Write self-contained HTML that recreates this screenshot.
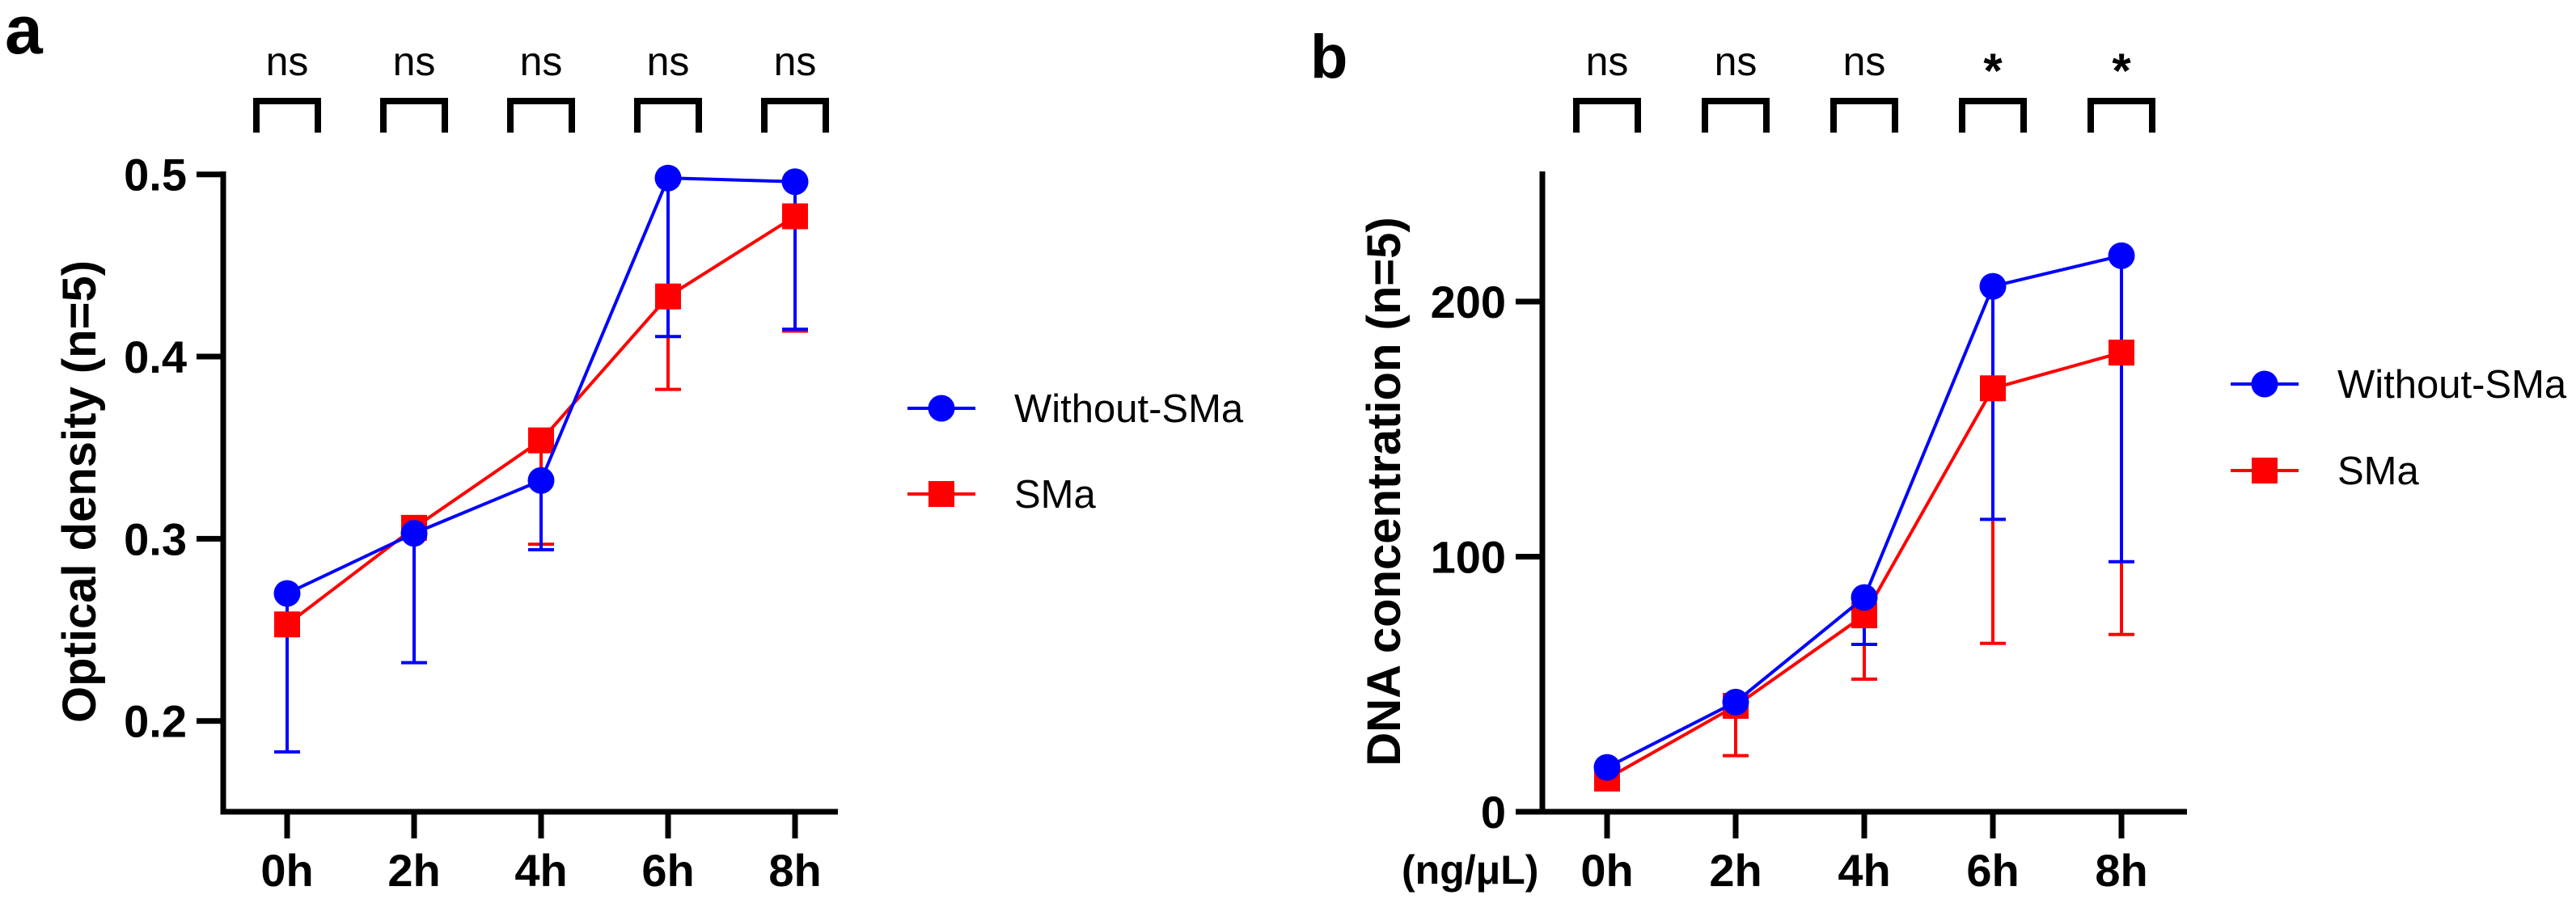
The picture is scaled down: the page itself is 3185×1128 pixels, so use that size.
<!DOCTYPE html>
<html><head><meta charset="utf-8"><style>
html,body{margin:0;padding:0;background:#fff;}
svg{display:block;font-family:"Liberation Sans",Arial,sans-serif;}
</style></head><body>
<svg id="fig" width="3185" height="1128" viewBox="0 0 3185 1128" xmlns="http://www.w3.org/2000/svg"></svg>
<script>
const categories = ["0h","2h","4h","6h","8h"];
// Panel a: optical density
const aBlue = [0.270,0.303,0.332,0.498,0.496];
const aRed = [0.253,0.306,0.354,0.433,0.477];
const aBlueLow = [0.183,0.232,0.294,0.411,0.415];
const aRedLow = [0.183,0.306,0.297,0.382,0.414];
const aTicks = [0.2,0.3,0.4,0.5];
const aTickLabels = ["0.2","0.3","0.4","0.5"];
const aSig = ["ns","ns","ns","ns","ns"];
// Panel b: DNA concentration
const bBlue = [17.4,43,84,206,218];
const bRed = [13,41.5,77,166,180];
const bBlueLow = [17.4,43,65.6,114.6,98];
const bRedLow = [13,22,52,66,69.5];
const bTicks = [0,100,200];
const bTickLabels = ["0","100","200"];
const bSig = ["ns","ns","ns","*","*"];

const NS="http://www.w3.org/2000/svg";
const svg=document.getElementById('fig');
function el(tag,attrs,parent){const e=document.createElementNS(NS,tag);for(const k in attrs)e.setAttribute(k,attrs[k]);(parent||svg).appendChild(e);return e;}

function panel(cfg){
  const g=el('g',{});
  
  
  const y=v=>cfg.y0+(v-cfg.v0)*(cfg.y1-cfg.y0)/(cfg.v1-cfg.v0);
  const x=i=>cfg.xs+i*cfg.dx;
  // axes
  const ya=el('line',{x1:cfg.ax,y1:cfg.axTop,x2:cfg.ax,y2:cfg.axBot+3.5,stroke:'#000','stroke-width':7},g);
  
  
  const xa=el('line',{x1:cfg.xaStart,y1:cfg.axBot,x2:cfg.xaEnd,y2:cfg.axBot,stroke:'#000','stroke-width':7},g);
  
  
  cfg.ticks.forEach((t,i)=>{
    const yy=y(t);
    el('line',{x1:cfg.ax-33,y1:yy,x2:cfg.ax,y2:yy,stroke:'#000','stroke-width':7},g);
    const tl=el('text',{x:cfg.ax-45,y:yy+20,'font-size':56,'font-weight':'bold','text-anchor':'end'},g);
    tl.textContent=cfg.tickLabels[i];
    
    
  });
  categories.forEach((c,i)=>{
    el('line',{x1:x(i),y1:cfg.axBot,x2:x(i),y2:cfg.axBot+33,stroke:'#000','stroke-width':7},g);
    const tl=el('text',{x:x(i),y:1096,'font-size':56,'font-weight':'bold','text-anchor':'middle'},g);
    tl.textContent=c;
    
    
    // significance bracket
    const br=el('path',{d:`M${x(i)-38},164 V125 H${x(i)+38} V164`,fill:'none',stroke:'#000','stroke-width':8},g);
    
    
    const s=cfg.sig[i];
    const st=el('text',{x:x(i),y:s==='*'?108:93,'font-size':s==='*'?60:50,'font-weight':s==='*'?'bold':'normal','text-anchor':'middle'},g);
    st.textContent=s;
    
    
  });
  // y title
  const yt=el('text',{x:0,y:0,'font-size':58,'font-weight':'bold','text-anchor':'middle',transform:`translate(${cfg.titleX},608) rotate(-90)`},g);
  yt.textContent=cfg.title;
  
  
  // panel letter
  const pl=el('text',{x:cfg.letterX,y:cfg.letterY,'font-size':cfg.letterSize,'font-weight':'bold'},g);
  pl.textContent=cfg.letter;
  
  
  // series
  const series=[{vals:cfg.red,low:cfg.redLow,col:'#ff0000',shape:'sq',name:'sma'},{vals:cfg.blue,low:cfg.blueLow,col:'#0000ff',shape:'ci',name:'without-sma'}];
  series.forEach(s=>{
    s.low.forEach((l,i)=>{
      if(l<s.vals[i]){
        const e=el('path',{d:`M${x(i)},${y(s.vals[i])} V${y(l)} M${x(i)-16},${y(l)} H${x(i)+16}`,stroke:s.col,'stroke-width':4,fill:'none'},g);
        
        
      }
    });
  });
  series.forEach(s=>{
    const ln=el('polyline',{points:s.vals.map((v,i)=>x(i)+','+y(v)).join(' '),fill:'none',stroke:s.col,'stroke-width':4},g);
    
    
    s.vals.forEach((v,i)=>{
      let m;
      if(s.shape==='ci') m=el('circle',{cx:x(i),cy:y(v),r:16.5,fill:s.col},g);
      else m=el('rect',{x:x(i)-16,y:y(v)-16,width:32,height:32,fill:s.col},g);
      
      
    });
  });
  // legend
  [{col:'#0000ff',shape:'ci',label:'Without-SMa',ly:cfg.legY[0]},{col:'#ff0000',shape:'sq',label:'SMa',ly:cfg.legY[1]}].forEach(L=>{
    const lg=el('g',{},g);
    
    
    el('line',{x1:cfg.legX,y1:L.ly,x2:cfg.legX+84,y2:L.ly,stroke:L.col,'stroke-width':4},lg);
    if(L.shape==='ci') el('circle',{cx:cfg.legX+42,cy:L.ly,r:16.5,fill:L.col},lg);
    else el('rect',{x:cfg.legX+26,y:L.ly-16,width:32,height:32,fill:L.col},lg);
    const t=el('text',{x:cfg.legX+132,y:L.ly+17,'font-size':49},lg);
    t.textContent=L.label;
  });
}

panel({name:'panel-a-optical-density',v0:0.5,y0:215.7,v1:0.2,y1:891.7,xs:355,dx:157,ax:276,axTop:212,axBot:1004,xaStart:276,xaEnd:1036,
  ticks:aTicks,tickLabels:aTickLabels,sig:aSig,blue:aBlue,red:aRed,blueLow:aBlueLow,redLow:aRedLow,
  title:'Optical density (n=5)',titleX:118,letter:'a',letterX:6,letterY:66,letterSize:84,legX:1122,legY:[505,611]});
panel({name:'panel-b-dna-concentration',v0:0,y0:1004,v1:200,y1:373,xs:1987,dx:159,ax:1907,axTop:212,axBot:1004,xaStart:1875,xaEnd:2704,
  ticks:bTicks,tickLabels:bTickLabels,sig:bSig,blue:bBlue,red:bRed,blueLow:bBlueLow,redLow:bRedLow,
  title:'DNA concentration (n=5)',titleX:1731,letter:'b',letterX:1620,letterY:96,letterSize:76,legX:2758,legY:[475,582]});

const unit=el('text',{x:1733,y:1093,'font-size':50,'font-weight':'bold'});
unit.textContent='(ng/μL)';


</script>
</body></html>
